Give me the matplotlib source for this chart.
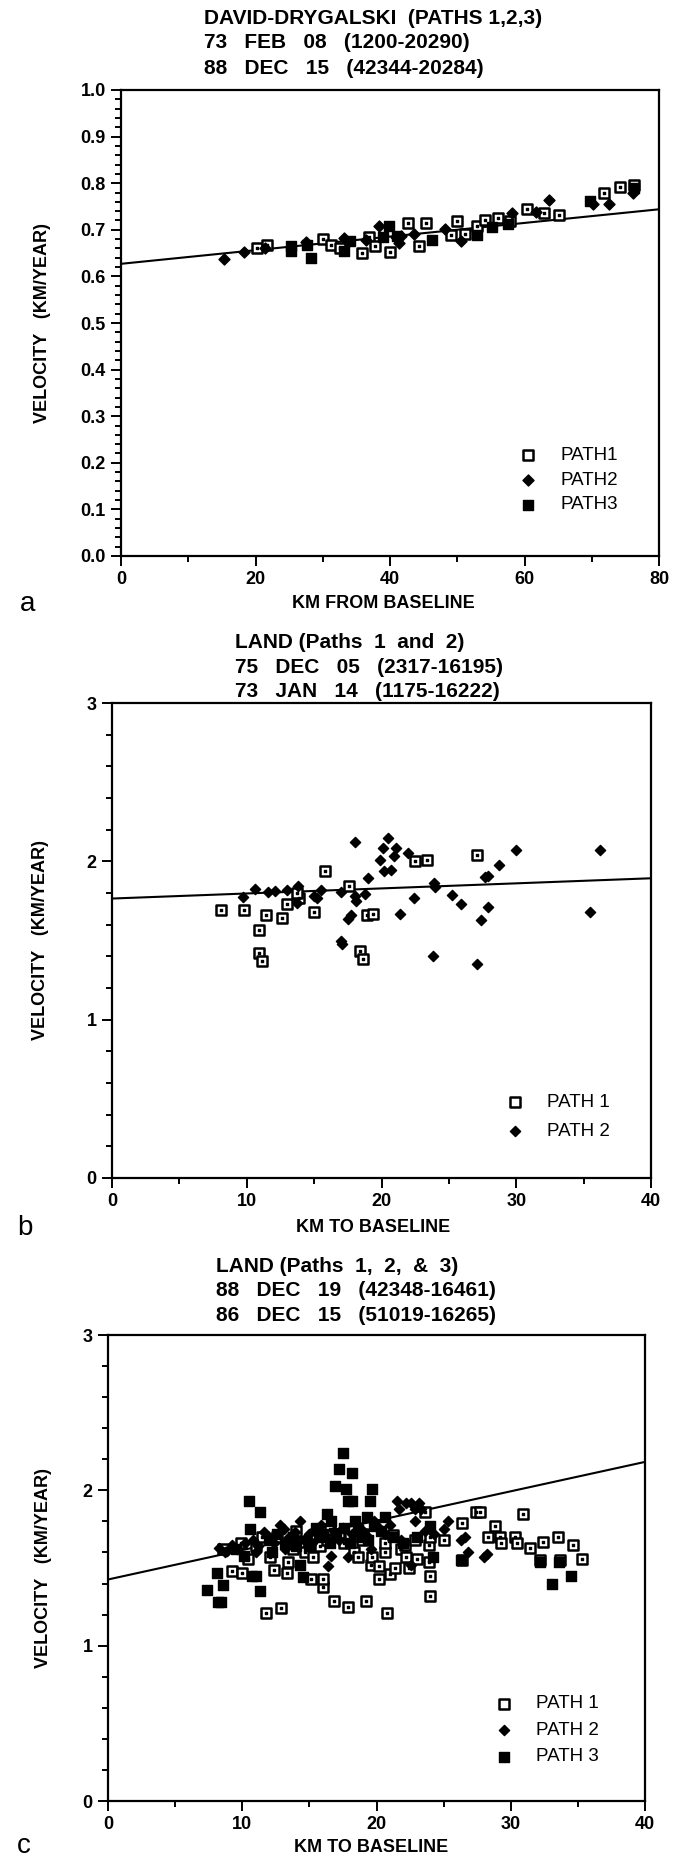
import matplotlib.pyplot as plt
from matplotlib.ticker import MultipleLocator, FormatStrFormatter

plt.rcParams['font.family'] = ['Liberation Sans', 'DejaVu Sans']

# ---- panel a : David-Drygalski ----
a_path1 = [(20.2, 0.662), (21.7, 0.667), (30.0, 0.681), (31.3, 0.667), (32.6, 0.662),
           (35.8, 0.651), (36.9, 0.685), (37.7, 0.665), (40.0, 0.652), (42.7, 0.714),
           (44.3, 0.665), (45.3, 0.714), (49.9, 0.718), (51.1, 0.691), (53.0, 0.709),
           (54.1, 0.721), (56.1, 0.725), (57.8, 0.718), (60.3, 0.745), (62.9, 0.735),
           (65.2, 0.731), (71.8, 0.778), (74.2, 0.792), (76.3, 0.797), (49.0, 0.688)]
a_path2 = [(15.3, 0.637), (18.3, 0.652), (21.4, 0.662), (27.5, 0.674), (33.1, 0.682),
           (33.7, 0.674), (38.4, 0.709), (40.9, 0.684), (41.3, 0.671), (41.7, 0.687),
           (48.2, 0.701), (50.6, 0.675), (58.2, 0.735), (61.7, 0.739), (63.6, 0.765),
           (70.2, 0.756), (72.6, 0.756), (76.1, 0.780), (43.5, 0.690), (36.5, 0.678)]
a_path3 = [(25.3, 0.665), (25.3, 0.654), (27.6, 0.667), (28.3, 0.639), (33.1, 0.654),
           (38.9, 0.684), (39.8, 0.709), (41.0, 0.687), (46.3, 0.679), (53.0, 0.688),
           (55.1, 0.705), (57.5, 0.712), (69.7, 0.762), (76.3, 0.790), (34.0, 0.676)]
a_fit_x = [0, 80]
a_fit_y = [0.627, 0.744]

# ---- panel b : Land, paths 1 and 2 ----
b_path1 = [(8.1, 1.692), (9.8, 1.692), (10.9, 1.567), (10.9, 1.421), (11.1, 1.373),
           (11.4, 1.660), (12.6, 1.642), (13.0, 1.730), (13.9, 1.768), (13.7, 1.798),
           (15.0, 1.680), (15.8, 1.936), (17.6, 1.843), (18.4, 1.433), (18.6, 1.385),
           (18.9, 1.660), (19.4, 1.667), (22.5, 1.999), (23.4, 2.007), (27.1, 2.039)]
b_path2 = [(9.7, 1.773), (10.6, 1.823), (11.6, 1.805), (12.1, 1.810), (13.0, 1.818),
           (13.8, 1.843), (13.7, 1.735), (15.0, 1.780), (15.2, 1.768), (15.5, 1.818),
           (17.0, 1.805), (17.0, 1.499), (17.1, 1.478), (17.5, 1.637), (17.7, 1.662),
           (18.0, 2.125), (18.0, 1.780), (18.1, 1.750), (18.8, 1.793), (19.0, 1.893),
           (19.9, 2.007), (20.1, 2.082), (20.2, 1.939), (20.5, 2.145), (20.7, 1.944),
           (20.9, 2.032), (21.1, 2.082), (21.4, 1.667), (22.0, 2.052), (22.4, 1.768),
           (23.8, 1.403), (23.9, 1.861), (24.0, 1.836), (25.2, 1.785), (25.9, 1.730),
           (27.4, 1.629), (27.1, 1.353), (27.7, 1.901), (27.9, 1.712), (27.9, 1.906),
           (28.7, 1.976), (30.0, 2.070), (35.5, 1.680), (36.2, 2.070)]
b_fit_x = [0, 40]
b_fit_y = [1.765, 1.893]

# ---- panel c : Land, paths 1, 2 and 3 ----
c_path1 = [(8.6, 1.62), (9.2, 1.48), (9.9, 1.66), (10.0, 1.47), (10.4, 1.56), (11.0, 1.64),
           (11.5, 1.70), (11.8, 1.21), (12.1, 1.57), (12.4, 1.49), (12.9, 1.24), (13.3, 1.47),
           (13.4, 1.54), (13.8, 1.62), (14.2, 1.66), (14.7, 1.60), (15.1, 1.43), (15.3, 1.57),
           (15.5, 1.70), (15.8, 1.64), (16.0, 1.38), (16.0, 1.43), (16.3, 1.68), (16.8, 1.29),
           (17.2, 1.72), (17.6, 1.66), (17.9, 1.25), (18.3, 1.60), (18.6, 1.57), (18.9, 1.68),
           (19.2, 1.29), (19.6, 1.52), (19.7, 1.57), (20.2, 1.51), (20.2, 1.43), (20.6, 1.60),
           (20.6, 1.66), (20.8, 1.21), (21.0, 1.46), (21.4, 1.50), (21.8, 1.62), (22.1, 1.65),
           (22.2, 1.57), (22.4, 1.50), (22.9, 1.68), (23.0, 1.56), (23.6, 1.86), (23.9, 1.54),
           (23.9, 1.65), (24.0, 1.45), (24.0, 1.70), (24.0, 1.32), (25.0, 1.68), (26.4, 1.79),
           (26.4, 1.55), (27.4, 1.86), (27.7, 1.86), (28.3, 1.70), (28.8, 1.77), (29.2, 1.70),
           (29.3, 1.66), (30.3, 1.70), (30.5, 1.66), (30.9, 1.85), (31.4, 1.63), (32.2, 1.55),
           (32.4, 1.67), (33.5, 1.70), (33.7, 1.55), (34.6, 1.65), (35.3, 1.56), (12.6, 1.70),
           (14.0, 1.74), (16.5, 1.75), (18.0, 1.70), (19.0, 1.72), (21.2, 1.71)]
c_path2 = [(8.3, 1.63), (8.7, 1.60), (8.9, 1.61), (9.2, 1.65), (9.6, 1.62), (10.2, 1.66),
           (10.8, 1.68), (11.2, 1.64), (11.6, 1.73), (12.0, 1.70), (12.4, 1.66), (12.8, 1.78),
           (13.1, 1.75), (13.5, 1.70), (13.9, 1.73), (14.3, 1.80), (14.6, 1.68), (15.0, 1.72),
           (15.4, 1.75), (15.9, 1.78), (16.2, 1.70), (16.4, 1.51), (16.6, 1.58), (16.8, 1.74),
           (17.2, 1.68), (17.5, 1.76), (17.9, 1.57), (18.2, 1.72), (18.6, 1.78), (19.0, 1.74),
           (19.4, 1.70), (19.8, 1.80), (20.2, 1.76), (20.6, 1.72), (21.0, 1.78), (21.5, 1.93),
           (21.7, 1.88), (22.2, 1.92), (22.6, 1.92), (22.9, 1.88), (23.2, 1.92), (23.3, 1.88),
           (22.9, 1.80), (22.6, 1.52), (21.8, 1.68), (23.6, 1.74), (24.3, 1.72), (25.0, 1.75),
           (25.3, 1.80), (26.3, 1.68), (26.6, 1.70), (26.8, 1.60), (28.0, 1.57), (28.2, 1.59),
           (15.2, 1.66), (13.2, 1.62), (11.0, 1.60), (19.6, 1.62)]
c_path3 = [(7.4, 1.36), (8.1, 1.47), (8.2, 1.28), (8.4, 1.28), (8.6, 1.39), (9.5, 1.62),
           (10.1, 1.58), (10.5, 1.93), (10.6, 1.75), (10.7, 1.45), (11.0, 1.45), (11.3, 1.86),
           (11.3, 1.35), (12.0, 1.68), (12.6, 1.72), (13.2, 1.66), (13.8, 1.70), (14.3, 1.52),
           (14.5, 1.44), (15.0, 1.64), (15.5, 1.76), (16.0, 1.72), (16.3, 1.85), (16.6, 1.80),
           (16.9, 2.03), (17.2, 2.14), (17.5, 2.24), (17.7, 2.01), (17.9, 1.93), (18.2, 1.93),
           (18.2, 2.11), (18.4, 1.80), (18.6, 1.74), (18.9, 1.70), (19.3, 1.83), (19.4, 1.68),
           (19.5, 1.93), (19.7, 2.01), (19.8, 1.77), (20.3, 1.74), (20.6, 1.83), (21.2, 1.70),
           (22.0, 1.66), (23.0, 1.70), (24.0, 1.77), (24.2, 1.57), (26.3, 1.55), (32.2, 1.54),
           (33.1, 1.40), (33.6, 1.54), (34.5, 1.45), (17.0, 1.70), (17.6, 1.76), (18.0, 1.66),
           (16.5, 1.66), (15.7, 1.70), (14.0, 1.64), (12.2, 1.60)]
c_fit_x = [0, 40]
c_fit_y = [1.426, 2.183]

W, H = 682, 1860
fig = plt.figure(figsize=(W / 100, H / 100), dpi=100)


def make_axes(left, top, right, bottom):
    return fig.add_axes([left / W, 1 - bottom / H, (right - left) / W, (bottom - top) / H])


def style(ax, xmax, xmaj, xmin, ymax, ymaj, ymin, yfmt):
    ax.set_xlim(0, xmax)
    ax.set_ylim(0, ymax)
    ax.xaxis.set_major_locator(MultipleLocator(xmaj))
    ax.xaxis.set_minor_locator(MultipleLocator(xmin))
    ax.yaxis.set_major_locator(MultipleLocator(ymaj))
    ax.yaxis.set_minor_locator(MultipleLocator(ymin))
    ax.yaxis.set_major_formatter(FormatStrFormatter(yfmt))
    for s in ax.spines.values():
        s.set_linewidth(1.6)
    ax.tick_params(which='both', direction='out', width=1.4)
    ax.tick_params(which='major', length=7, labelsize=13, pad=4)
    ax.tick_params(which='minor', length=4)
    for lab in ax.get_xticklabels() + ax.get_yticklabels():
        lab.set_fontweight('bold')


def scatter_sets(ax, p1, p2, p3, labels, ms):
    x1, y1 = zip(*p1)
    ax.scatter(x1, y1, marker='s', s=ms ** 2, facecolor='white', edgecolor='black',
               linewidth=1.8, label=labels[0], zorder=3)
    ax.scatter(x1, y1, marker='s', s=3, color='black', zorder=4)
    x2, y2 = zip(*p2)
    ax.scatter(x2, y2, marker='D', s=(ms * 0.8) ** 2, color='black', label=labels[1], zorder=3)
    if p3 is not None:
        x3, y3 = zip(*p3)
        ax.scatter(x3, y3, marker='s', s=ms ** 2, color='black', label=labels[2], zorder=3)


def titles(lines, x, ys):
    for t, y in zip(lines, ys):
        fig.text(x / W, 1 - y / H, t, fontsize=15, fontweight='bold', va='center', ha='left')


def labels(ax, xlab, xpos, ypos):
    ax.set_xlabel(xlab, fontsize=13, fontweight='bold', va='center')
    ax.xaxis.set_label_coords(*xpos)
    ax.set_ylabel('VELOCITY   (KM/YEAR)', fontsize=13, fontweight='bold', va='center')
    ax.yaxis.set_label_coords(*ypos)


# panel a
ax = make_axes(121, 90, 659, 556)
scatter_sets(ax, a_path1, a_path2, a_path3, ['PATH1', 'PATH2', 'PATH3'], 7)
ax.plot(a_fit_x, a_fit_y, color='black', lw=1.5, zorder=2)
style(ax, 80, 20, 10, 1.0, 0.1, 0.02, '%.1f')
labels(ax, 'KM FROM BASELINE', (0.487, -0.103), (-0.145, 0.5))
ax.legend(loc='lower right', bbox_to_anchor=(0.955, 0.055), frameon=False, fontsize=13.5,
          handletextpad=0.7, labelspacing=0.4)
titles(['DAVID-DRYGALSKI  (PATHS 1,2,3)', '73   FEB   08   (1200-20290)',
        '88   DEC   15   (42344-20284)'], 204, [18, 43, 68])
fig.text(20 / W, 1 - 604 / H, 'a', fontsize=20, va='center')

# panel b
ax = make_axes(112, 703, 651, 1178)
scatter_sets(ax, b_path1, b_path2, None, ['PATH 1', 'PATH 2'], 6.5)
ax.plot(b_fit_x, b_fit_y, color='black', lw=1.5, zorder=2)
style(ax, 40, 10, 5, 3, 1, 0.2, '%d')
labels(ax, 'KM TO BASELINE', (0.484, -0.105), (-0.132, 0.5))
ax.legend(loc='lower right', bbox_to_anchor=(0.955, 0.045), frameon=False, fontsize=13.5,
          handletextpad=0.7, labelspacing=0.6)
titles(['LAND (Paths  1  and  2)', '75   DEC   05   (2317-16195)',
        '73   JAN   14   (1175-16222)'], 235, [642, 667, 691])
fig.text(17 / W, 1 - 1228 / H, 'b', fontsize=20, va='center')

# panel c
ax = make_axes(108, 1335, 645, 1801)
scatter_sets(ax, c_path1, c_path2, c_path3, ['PATH 1', 'PATH 2', 'PATH 3'], 6.5)
ax.plot(c_fit_x, c_fit_y, color='black', lw=1.5, zorder=2)
style(ax, 40, 10, 5, 3, 1, 0.2, '%d')
labels(ax, 'KM TO BASELINE', (0.49, -0.10), (-0.12, 0.5))
ax.legend(loc='lower right', bbox_to_anchor=(0.945, 0.04), frameon=False, fontsize=13.5,
          handletextpad=0.7, labelspacing=0.5)
titles(['LAND (Paths  1,  2,  &  3)', '88   DEC   19   (42348-16461)',
        '86   DEC   15   (51019-16265)'], 216, [1266, 1291, 1315])
fig.text(17 / W, 1 - 1846 / H, 'c', fontsize=20, va='center')

fig.savefig('out.png', dpi=100, facecolor='white')
